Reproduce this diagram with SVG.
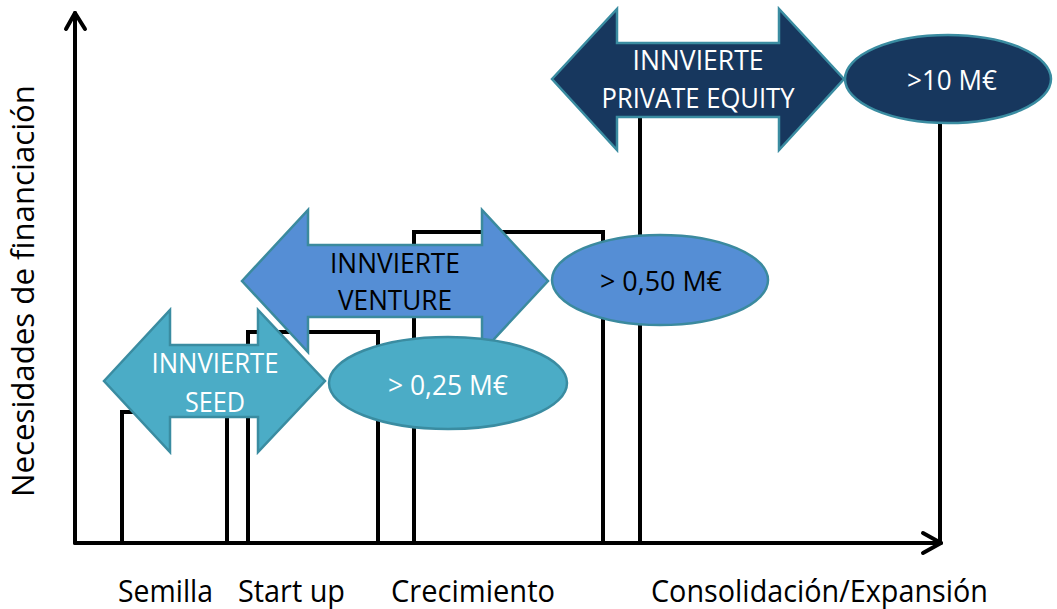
<svg xmlns="http://www.w3.org/2000/svg" width="1057" height="609" viewBox="0 0 1057 609">
<defs>
<style>
.bar{fill:none;stroke:#000;stroke-width:4;stroke-linejoin:miter}
.axis{fill:none;stroke:#000;stroke-width:4;stroke-linecap:round;stroke-linejoin:round}
.seed{fill:#4BACC6;stroke:#3A8CA1;stroke-width:2.5}
.venture{fill:#558ED5;stroke:#3B8A9E;stroke-width:2.5}
.pe{fill:#17375E;stroke:#3A8CA1;stroke-width:2.5}
.t{font-family:"Open Sans","Liberation Sans",sans-serif;font-size:27px;text-anchor:middle}
.w{fill:#fff}
.k{fill:#000}
.lab{font-family:"Open Sans","Liberation Sans",sans-serif;font-size:31px;fill:#000}
</style>
</defs>
<rect width="1057" height="609" fill="#fff"/>
<g id="stages">
<polyline class="bar" points="122,541 122,412 227,412 227,541"/>
<polyline class="bar" points="248,541 248,332 378,332 378,541"/>
<polyline class="bar" points="414,541 414,232 603,232 603,541"/>
<line class="bar" x1="640" y1="110" x2="640" y2="541"/>
<line class="bar" x1="940" y1="110" x2="940" y2="543"/>
</g>
<g id="connectors">
<polyline class="axis" points="75,543 75,13"/>
<polyline class="axis" points="66,29 75,13 85,29"/>
<polyline class="axis" points="75,543 941,543"/>
<polyline class="axis" points="923,533 941,543 923,553"/>
</g>
<g id="venture">
<path class="venture" d="M242,281 L308,210 L308,245 L482,245 L482,210 L548,281 L482,352 L482,317 L308,317 L308,352 Z"/>
<text class="t k" x="395" y="273" textLength="130" lengthAdjust="spacingAndGlyphs">INNVIERTE</text>
<text class="t k" x="395" y="310" textLength="114" lengthAdjust="spacingAndGlyphs">VENTURE</text>
</g>
<g id="seed">
<path class="seed" d="M104,381 L170,310 L170,345 L258,345 L258,310 L325,381 L258,452 L258,417 L170,417 L170,452 Z"/>
<text class="t w" x="215" y="373" textLength="127" lengthAdjust="spacingAndGlyphs">INNVIERTE</text>
<text class="t w" x="215" y="412" textLength="60" lengthAdjust="spacingAndGlyphs">SEED</text>
</g>
<g id="amount025">
<ellipse class="seed" cx="448" cy="383" rx="119" ry="46"/>
<text class="t w" x="448" y="395" textLength="120" lengthAdjust="spacingAndGlyphs">&gt; 0,25 M€</text>
</g>
<g id="amount050">
<ellipse class="venture" cx="660" cy="280" rx="108" ry="45"/>
<text class="t k" x="661" y="291" textLength="122" lengthAdjust="spacingAndGlyphs">&gt; 0,50 M€</text>
</g>
<g id="privateequity">
<path class="pe" d="M552,79 L617,9 L617,43 L779,43 L779,9 L844,79 L779,150 L779,117 L617,117 L617,150 Z"/>
<text class="t w" x="698" y="70" textLength="131" lengthAdjust="spacingAndGlyphs">INNVIERTE</text>
<text class="t w" x="698" y="108" textLength="193" lengthAdjust="spacingAndGlyphs">PRIVATE EQUITY</text>
</g>
<g id="amount10">
<ellipse class="pe" cx="948" cy="79" rx="103" ry="44"/>
<text class="t w" x="952" y="90" textLength="90" lengthAdjust="spacingAndGlyphs">&gt;10 M€</text>
</g>
<g id="labels">
<text class="lab" transform="translate(34,291) rotate(-90)" text-anchor="middle" textLength="412" lengthAdjust="spacingAndGlyphs">Necesidades de financiación</text>
<text class="lab" x="118" y="602" textLength="95" lengthAdjust="spacingAndGlyphs">Semilla</text>
<text class="lab" x="238" y="602" textLength="107" lengthAdjust="spacingAndGlyphs">Start up</text>
<text class="lab" x="391" y="602" textLength="164" lengthAdjust="spacingAndGlyphs">Crecimiento</text>
<text class="lab" x="651" y="602" textLength="337" lengthAdjust="spacingAndGlyphs">Consolidación/Expansión</text>
</g>
</svg>
